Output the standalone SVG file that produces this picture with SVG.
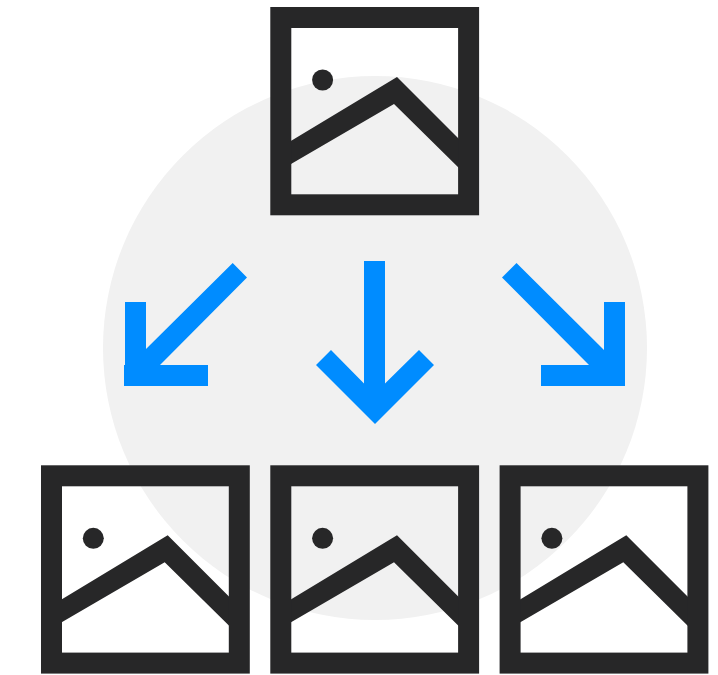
<svg xmlns="http://www.w3.org/2000/svg" width="718" height="675" viewBox="0 0 718 675">
<style>
.frame{fill:none;stroke:#272728;stroke-width:21}
.ink{fill:#272728}
.arrow{fill:#008cff}
</style>
<defs>
<g id="picture">
<polygon class="ink" points="285,144.6 397,77 464,144 464,173 394,104 285,167.5"/>
<rect class="frame" x="280.8" y="17.5" width="187.8" height="187.3"/>
<circle class="ink" cx="322.6" cy="80" r="10.5"/>
</g>
</defs>
<circle id="backdrop" cx="375" cy="348" r="272" fill="#f1f1f1"/>
<g id="node-top"><use href="#picture"/></g>
<g id="node-left"><use href="#picture" x="-229.3" y="458.3"/></g>
<g id="node-center"><use href="#picture" y="458.3"/></g>
<g id="node-right"><use href="#picture" x="229.3" y="458.3"/></g>
<g id="connectors">
<polygon class="arrow" points="232.7,263 247,277.5 160,365 208,365 208,386 124,386 124,365 125,365 125,302 146,302 146,349"/>
<polygon class="arrow" points="364,261 385,261 385,383.5 419,350 434,365 375,424 316,365 331,350 364,383.5"/>
<polygon class="arrow" points="516.5,263 502,277.5 589,365 541,365 541,386 625,386 625,302 604,302 604,350"/>
</g>
</svg>
